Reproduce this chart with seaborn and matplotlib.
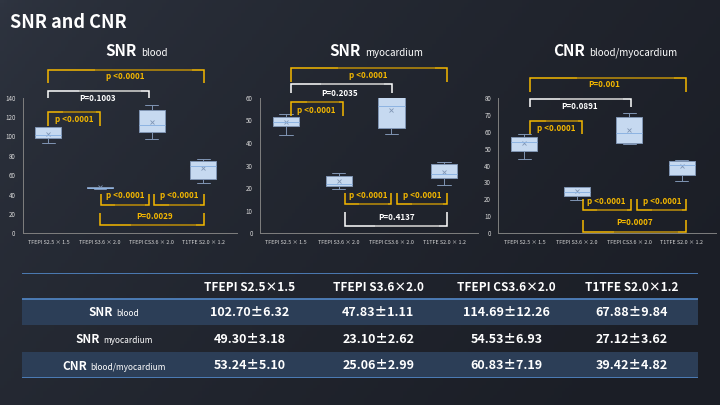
import numpy as np
import pandas as pd
import matplotlib
matplotlib.use("Agg")
import matplotlib.pyplot as plt
import matplotlib.transforms as mtransforms
from matplotlib.colors import to_rgb
import seaborn as sns

# ---- data ----
methods = ["TFEPI S2.5×1.5", "TFEPI S3.6×2.0", "TFEPI CS3.6×2.0", "T1TFE S2.0×1.2"]
tick_labels = ["TFEPI S2.5 × 1.5", "TFEPI S3.6 × 2.0", "TFEPI CS3.6 × 2.0", "T1TFE S2.0 × 1.2"]

# box summaries: low whisker, q1, median, q3, high whisker
snr_blood_box = [[92.9, 98.0, 101.4, 109.4, 109.4],
                 [46.0, 46.4, 47.0, 47.9, 48.3],
                 [97.0, 104.9, 111.8, 127.0, 132.1],
                 [51.6, 56.4, 69.5, 74.3, 76.4]]
snr_myo_box = [[43.3, 47.3, 49.4, 51.3, 52.6],
               [19.7, 20.8, 21.9, 25.2, 26.5],
               [43.8, 46.7, 56.3, 60.4, 60.4],
               [21.2, 24.3, 26.4, 30.5, 31.4]]
cnr_box = [[44.0, 48.7, 53.7, 56.6, 58.4],
           [19.5, 21.8, 24.6, 27.1, 27.5],
           [52.9, 53.5, 59.0, 68.4, 70.8],
           [30.7, 34.2, 40.1, 42.5, 43.1]]

snr_blood_mean = [102.70, 47.83, 114.69, 67.88]
snr_blood_sd = [6.32, 1.11, 12.26, 9.84]
snr_myo_mean = [49.30, 23.10, 54.53, 27.12]
snr_myo_sd = [3.18, 2.62, 6.93, 3.62]
cnr_mean = [53.24, 25.06, 60.83, 39.42]
cnr_sd = [5.10, 2.99, 7.19, 4.82]

# significance brackets: x0, x1, line y, tip y, label, text x, text y, colour
snr_blood_brackets = [
    (0.00, 3.02, 168.4, 155.4, "p <0.0001", 1.48, 162.3, "gold"),
    (0.00, 1.95, 147.2, 139.3, "P=0.1003", 0.95, 139.3, "white"),
    (-0.01, 1.00, 124.9, 110.7, "p <0.0001", 0.50, 117.0, "gold"),
    (1.02, 1.95, 29.2, 40.6, "p <0.0001", 1.48, 39.0, "gold"),
    (2.05, 3.01, 29.2, 40.6, "p <0.0001", 2.54, 39.0, "gold"),
    (1.00, 3.02, 8.6, 21.3, "P=0.0029", 2.05, 17.4, "gold"),
]
snr_myo_brackets = [
    (0.095, 3.06, 73.3, 67.1, "p <0.0001", 1.56, 70.0, "gold"),
    (0.095, 2.02, 65.9, 61.9, "P=0.2035", 1.01, 61.9, "white"),
    (0.09, 1.09, 57.9, 51.9, "p <0.0001", 0.58, 54.4, "gold"),
    (1.11, 2.00, 13.0, 17.7, "p <0.0001", 1.56, 16.8, "gold"),
    (2.11, 3.06, 13.0, 17.7, "p <0.0001", 2.58, 16.8, "gold"),
    (1.11, 3.06, 3.4, 9.3, "P=0.4137", 2.10, 7.2, "white"),
]
cnr_brackets = [
    (0.11, 3.09, 91.8, 83.5, "P=0.001", 1.52, 87.5, "gold"),
    (0.10, 2.04, 79.4, 74.7, "P=0.0891", 1.05, 74.7, "white"),
    (0.11, 1.10, 66.4, 58.4, "p <0.0001", 0.60, 61.9, "gold"),
    (1.11, 2.04, 13.7, 20.1, "p <0.0001", 1.57, 19.0, "gold"),
    (2.14, 3.09, 13.7, 20.1, "p <0.0001", 2.62, 19.0, "gold"),
    (1.11, 3.09, 0.8, 7.8, "P=0.0007", 2.11, 6.1, "gold"),
]

# ---- style ----
W, H = 720, 405
BOX_FILL = "#c6d9f0"
BOX_EDGE = "#8095b4"
MEDIAN = "#8db3e2"
GOLD = "#f5b800"
GOLD_DARK = "#8c6c14"
WHITE = "#ffffff"
GREY = "#a6a6a6"
TICK = "#d9d9d9"

sns.set_theme(style="white")
plt.rcParams["font.family"] = ["Noto Sans CJK JP", "DejaVu Sans"]

fig = plt.figure(figsize=(W / 100, H / 100), dpi=100)

# background gradient
bg = fig.add_axes([0, 0, 1, 1], zorder=-10)
c0, c1 = np.array(to_rgb("#2f3541")), np.array(to_rgb("#1b1e26"))
gx, gy = np.meshgrid(np.linspace(0, 1, 200), np.linspace(0, 1, 120))
t = np.clip(0.75 * gx + 0.35 * gy, 0, 1)[..., None] ** 0.6
bg.imshow(c0 * (1 - t) + c1 * t, aspect="auto", extent=(0, 1, 0, 1))
bg.axis("off")


def px_axes(left, top, width, height):
    return fig.add_axes([left / W, 1 - (top + height) / H, width / W, height / H])


def split_text(xc, y, big, small, big_size, small_size, big_weight="bold", small_weight="normal"):
    # two-size label centred on xc (pixels from left), baseline y (pixels from top)
    r = fig.canvas.get_renderer()
    ident = mtransforms.IdentityTransform()
    t1 = fig.text(0, 0, big, fontsize=big_size, fontweight=big_weight, color="white",
                  ha="left", va="baseline", transform=ident)
    t2 = fig.text(0, 0, small, fontsize=small_size, fontweight=small_weight, color="white",
                  ha="left", va="baseline", transform=ident)
    w1 = t1.get_window_extent(r).width
    w2 = t2.get_window_extent(r).width
    gap = big_size * 0.35
    x0 = xc - (w1 + gap + w2) / 2
    t1.set_position((x0, H - y))
    t2.set_position((x0 + w1 + gap, H - y))


def draw_panel(ax, box, means, ymax, ystep, brackets):
    df = pd.DataFrame({"method": np.repeat(methods, 5), "value": np.ravel(box)})
    sns.boxplot(data=df, x="method", y="value", order=methods, ax=ax, width=0.5,
                whis=(0, 100), color=BOX_FILL, linecolor=BOX_EDGE, linewidth=0.7,
                saturation=1, showfliers=False, medianprops={"color": MEDIAN})
    sns.pointplot(x=methods, y=means, order=methods, ax=ax, linestyle="none", marker="x",
                  color=BOX_EDGE, markersize=3, markeredgewidth=0.6, errorbar=None)
    ax.set_xlim(-0.5, 3.65)
    ax.set_ylim(0, ymax)
    ax.set_yticks(np.arange(0, ymax + 1, ystep))
    ax.set_xticks(range(4))
    ax.set_xticklabels(tick_labels)
    ax.set_xlabel("")
    ax.set_ylabel("")
    ax.patch.set_alpha(0)
    for s in ["top", "right"]:
        ax.spines[s].set_visible(False)
    for s in ["left", "bottom"]:
        ax.spines[s].set_color("#7f7f7f")
        ax.spines[s].set_linewidth(0.7)
    ax.tick_params(axis="y", length=0, labelsize=4.5, labelcolor=TICK, pad=5)
    ax.tick_params(axis="x", length=0, labelsize=3.9, labelcolor=TICK, pad=4.5)
    for x0, x1, yl, yt, label, tx, ty, kind in brackets:
        c, dark = (GOLD, GOLD_DARK) if kind == "gold" else (WHITE, GREY)
        ax.plot([x0, x0, x1, x1], [yt, yl, yl, yt], color=c, lw=1.1, clip_on=False,
                solid_joinstyle="miter", solid_capstyle="butt")
        ax.plot([x0 + 0.3 * (x1 - x0), x0 + 0.92 * (x1 - x0)], [yl, yl], color=dark,
                lw=1.1, clip_on=False, solid_capstyle="butt")
        ax.text(tx, ty, label, color=c, ha="center", va="center", fontsize=5.8,
                fontweight="bold", clip_on=False)


ax1 = px_axes(22.5, 97.7, 214.4, 135.6)
draw_panel(ax1, snr_blood_box, snr_blood_mean, 140, 20, snr_blood_brackets)
ax2 = px_axes(259.7, 97.7, 218.6, 135.6)
draw_panel(ax2, snr_myo_box, snr_myo_mean, 60, 10, snr_myo_brackets)
ax3 = px_axes(498.1, 97.7, 217.7, 135.6)
draw_panel(ax3, cnr_box, cnr_mean, 80, 10, cnr_brackets)

# titles
fig.text(10 / W, 1 - 27.7 / H, "SNR and CNR", fontsize=13, fontweight="bold", color="white",
         ha="left", va="baseline")
split_text(136.5, 55.7, "SNR", "blood", 11, 7)
split_text(376, 55.7, "SNR", "myocardium", 11, 7)
split_text(615.5, 55.7, "CNR", "blood/myocardium", 11, 7)

# table of mean ± sd
tab = px_axes(22, 272.7, 676, 105.6)
tab.set_xlim(0, 1)
tab.set_ylim(4, 0)
tab.axis("off")
for r in [1, 3]:
    tab.axhspan(r, r + 1, color="#2c3e57", lw=0)
for yline in [0, 1, 4]:
    tab.axhline(yline, color="#4f81bd", lw=1.3)
col_x = [0.337, 0.527, 0.717, 0.902]
for cx, name in zip(col_x, methods):
    tab.text(cx, 0.55, name, color="white", ha="center", va="center", fontsize=8.5,
             fontweight="bold")
rows = [("SNR", "blood", snr_blood_mean, snr_blood_sd),
        ("SNR", "myocardium", snr_myo_mean, snr_myo_sd),
        ("CNR", "blood/myocardium", cnr_mean, cnr_sd)]
row_base = [316.5, 343.0, 369.5]
for (big, small, m, sd), yb, ri in zip(rows, row_base, range(3)):
    split_text(113.8, yb, big, small, 8.5, 6)
    for cx, mv, sv in zip(col_x, m, sd):
        tab.text(cx, ri + 1.52, f"{mv:.2f}±{sv:.2f}", color="white", ha="center",
                 va="center", fontsize=9, fontweight="bold")

fig.savefig("out.png", dpi=100)
